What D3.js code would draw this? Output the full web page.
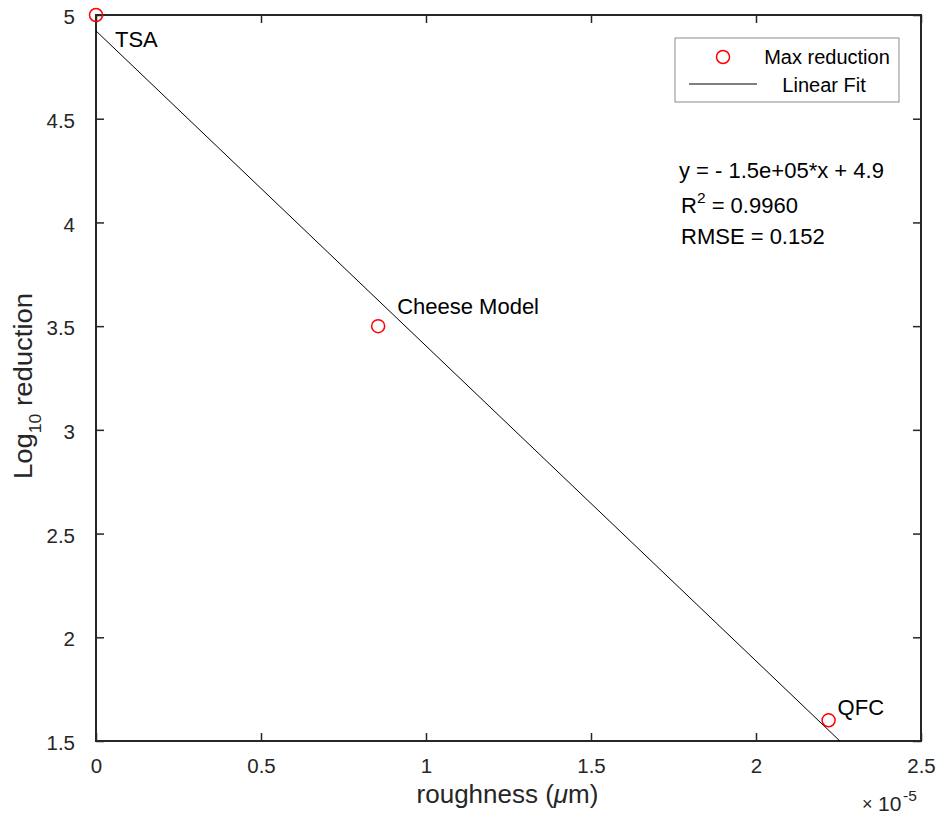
<!DOCTYPE html>
<html>
<head>
<meta charset="utf-8">
<script src="https://cdn.jsdelivr.net/npm/d3@7"></script>
<style>
  html, body { margin: 0; padding: 0; background: #fff; }
  svg { display: block; font-family: "Liberation Sans", Arial, Helvetica, sans-serif; }
</style>
</head>
<body>
<svg id="chart" width="938" height="819"></svg>
<script>
// Measured samples: surface roughness (m) vs. log10 reduction
const sampleNames = ["TSA", "Cheese Model", "QFC"];
const roughness = [0.0, 0.855e-5, 2.22e-5];
const logReduction = [5.0, 3.5, 1.6];

const xTicks = [0, 0.5e-5, 1.0e-5, 1.5e-5, 2.0e-5, 2.5e-5];
const xTickLabels = ["0", "0.5", "1", "1.5", "2", "2.5"];
const yTicks = [1.5, 2, 2.5, 3, 3.5, 4, 4.5, 5];
const yTickLabels = ["1.5", "2", "2.5", "3", "3.5", "4", "4.5", "5"];

const statsLines = ["y = - 1.5e+05*x + 4.9", "R2 = 0.9960", "RMSE = 0.152"];

const svg = d3.select("#chart");
const box = { left: 96, right: 921, top: 15, bottom: 741 };

const x = d3.scaleLinear().domain([0, 2.5e-5]).range([box.left, box.right]);
const y = d3.scaleLinear().domain([1.5, 5]).range([box.bottom, box.top]);

// least-squares fit of the samples
const n = roughness.length;
const mx = d3.mean(roughness), my = d3.mean(logReduction);
let sxy = 0, sxx = 0;
for (let i = 0; i < n; i++) {
  sxy += (roughness[i] - mx) * (logReduction[i] - my);
  sxx += (roughness[i] - mx) ** 2;
}
const slope = sxy / sxx;
const intercept = my - slope * mx;

svg.append("defs").append("clipPath").attr("id", "plotClip")
  .append("rect")
  .attr("x", box.left).attr("y", box.top)
  .attr("width", box.right - box.left).attr("height", box.bottom - box.top);

const axisColor = "#262626";
const tickFont = 20.5;

// axes with inward ticks
const xAxisB = d3.axisBottom(x).tickValues(xTicks).tickSizeInner(-8).tickSizeOuter(0)
  .tickFormat((d, i) => xTickLabels[i]).tickPadding(20);
const gxb = svg.append("g").attr("transform", `translate(0,${box.bottom})`).call(xAxisB);
const xAxisT = d3.axisTop(x).tickValues(xTicks).tickSizeInner(-8).tickSizeOuter(0).tickFormat("");
const gxt = svg.append("g").attr("transform", `translate(0,${box.top})`).call(xAxisT);
const yAxisL = d3.axisLeft(y).tickValues(yTicks).tickSizeInner(-8).tickSizeOuter(0)
  .tickFormat((d, i) => yTickLabels[i]).tickPadding(21);
const gyl = svg.append("g").attr("transform", `translate(${box.left},0)`).call(yAxisL);
const yAxisR = d3.axisRight(y).tickValues(yTicks).tickSizeInner(-8).tickSizeOuter(0).tickFormat("");
const gyr = svg.append("g").attr("transform", `translate(${box.right},0)`).call(yAxisR);

[gxb, gxt, gyl, gyr].forEach(g => {
  g.select(".domain").remove();
  g.selectAll(".tick line").attr("stroke", axisColor).attr("stroke-width", 1.5);
  g.selectAll(".tick text").attr("fill", axisColor).attr("font-size", tickFont)
    .attr("font-family", "'Liberation Sans', Arial, Helvetica, sans-serif");
});
gyl.selectAll(".tick text").attr("dy", "0.42em");
gxb.selectAll(".tick text").attr("dy", "0.71em").attr("y", 17);

// frame
svg.append("rect")
  .attr("x", box.left).attr("y", box.top)
  .attr("width", box.right - box.left).attr("height", box.bottom - box.top)
  .attr("fill", "none").attr("stroke", axisColor).attr("stroke-width", 2);

// fitted line
const plot = svg.append("g").attr("clip-path", "url(#plotClip)");
const fitX = [0, 2.5e-5];
plot.append("path")
  .datum(fitX)
  .attr("d", d3.line().x(d => x(d)).y(d => y(slope * d + intercept)))
  .attr("fill", "none").attr("stroke", "#000").attr("stroke-width", 1);

// sample markers
svg.append("g").selectAll("circle")
  .data(roughness)
  .join("circle")
  .attr("cx", d => x(d))
  .attr("cy", (d, i) => y(logReduction[i]))
  .attr("r", 6.5)
  .attr("fill", "none").attr("stroke", "#ff0000").attr("stroke-width", 1.5);

// sample labels
const labelOffsets = [[19, 32], [19, -12], [9, -5]];
svg.append("g").selectAll("text")
  .data(sampleNames)
  .join("text")
  .attr("x", (d, i) => x(roughness[i]) + labelOffsets[i][0])
  .attr("y", (d, i) => y(logReduction[i]) + labelOffsets[i][1])
  .attr("font-size", 22)
  .attr("fill", "#000")
  .text(d => d);

// axis titles
const xl = svg.append("text")
  .attr("x", (box.left + box.right) / 2 - 1).attr("y", 803)
  .attr("text-anchor", "middle").attr("font-size", 26).attr("fill", axisColor);
xl.append("tspan").text("roughness (");
xl.append("tspan").attr("font-style", "italic").text("\u03bc");
xl.append("tspan").text("m)");

const yl = svg.append("text")
  .attr("transform", `translate(32,386) rotate(-90) scale(1.1,1)`)
  .attr("text-anchor", "middle").attr("font-size", 25).attr("fill", axisColor);
yl.append("tspan").text("Log");
yl.append("tspan").attr("font-size", 16).attr("dy", 9).text("10");
yl.append("tspan").attr("dy", -9).text(" reduction");

// exponent note
const ex = svg.append("g").attr("fill", axisColor);
ex.append("text").attr("x", 862).attr("y", 810).attr("font-size", 18).text("\u00d7");
ex.append("text").attr("x", 878).attr("y", 811).attr("font-size", 21).text("10");
ex.append("text").attr("x", 903).attr("y", 801).attr("font-size", 15.5).text("-5");

// fit statistics
const stats = svg.append("g").attr("font-size", 22).attr("fill", "#000");
stats.append("text").attr("x", 679).attr("y", 178).text(statsLines[0]);
const r2 = stats.append("text").attr("x", 681).attr("y", 213);
r2.append("tspan").text("R");
r2.append("tspan").attr("font-size", 15.5).attr("dy", -10).text("2");
r2.append("tspan").attr("dy", 10).text(" = 0.9960");
stats.append("text").attr("x", 681).attr("y", 244).text(statsLines[2]);

// legend
const lg = svg.append("g");
lg.append("rect").attr("x", 675).attr("y", 38).attr("width", 224).attr("height", 64)
  .attr("fill", "#fff").attr("stroke", "#8c8c8c").attr("stroke-width", 1);
lg.append("circle").attr("cx", 723).attr("cy", 57).attr("r", 6.5)
  .attr("fill", "none").attr("stroke", "#ff0000").attr("stroke-width", 1.5);
lg.append("line").attr("x1", 689).attr("x2", 757).attr("y1", 84).attr("y2", 84)
  .attr("stroke", "#000").attr("stroke-width", 1);
lg.append("text").attr("x", 827).attr("y", 64).attr("text-anchor", "middle")
  .attr("font-size", 20).attr("fill", "#000").text("Max reduction");
lg.append("text").attr("x", 824).attr("y", 92).attr("text-anchor", "middle")
  .attr("font-size", 20).attr("fill", "#000").text("Linear Fit");
</script>
</body>
</html>
